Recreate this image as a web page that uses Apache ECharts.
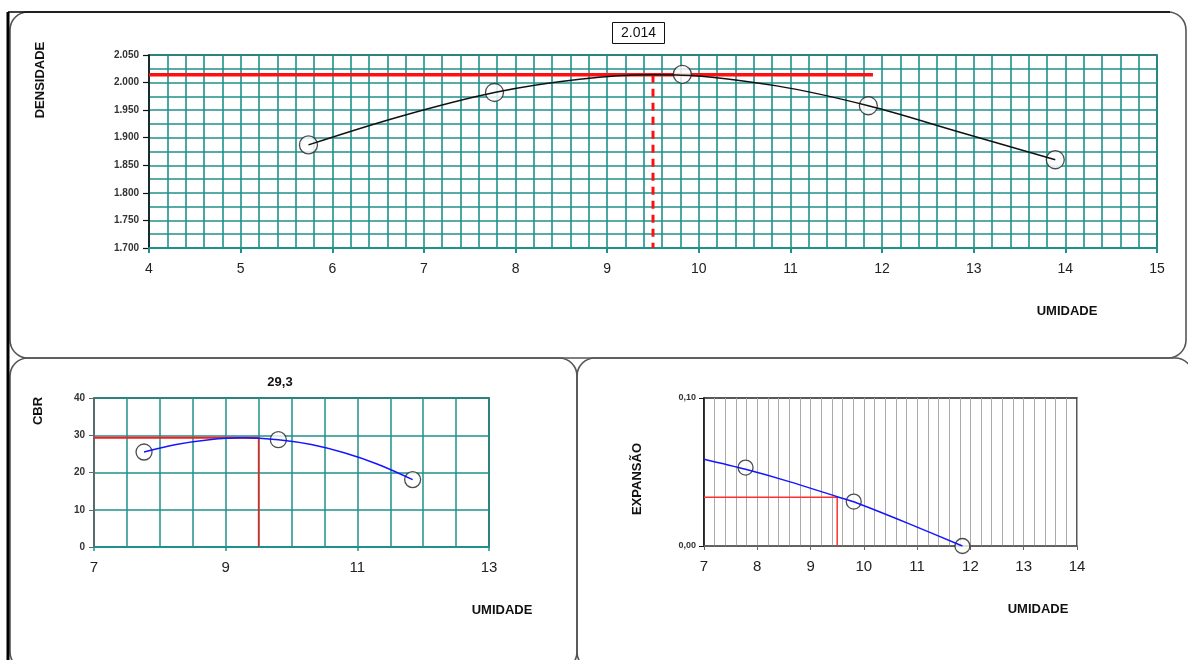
<!DOCTYPE html>
<html>
<head>
<meta charset="utf-8">
<script src="https://cdn.jsdelivr.net/npm/echarts@6/dist/echarts.min.js"></script>
<style>
  html, body { margin: 0; padding: 0; background: #fff; }
  #chart { width: 1188px; height: 660px; }
</style>
</head>
<body>
<div id="chart"></div>
<script>
// Compactação: densidade x umidade
const densUmidade = [5.74, 7.77, 9.82, 11.85, 13.89];
const densValores = [1.887, 1.982, 2.015, 1.958, 1.860];
const densCurvaX = [5.74, 6.75, 7.77, 8.70, 9.50, 9.82, 10.85, 11.85, 12.85, 13.89];
const densCurvaY = [1.887, 1.939, 1.982, 2.006, 2.014, 2.0135, 1.994, 1.958, 1.910, 1.860];
const densMaxima = 2.014;
const umidadeOtima = 9.5;
const densLinhaFim = 11.9;
const densTicksY = [1.700, 1.750, 1.800, 1.850, 1.900, 1.950, 2.000, 2.050];

// CBR x umidade
const cbrUmidade = [7.76, 9.80, 11.84];
const cbrValores = [25.5, 28.8, 18.1];
const cbrCurvaX = [7.76, 8.25, 8.75, 9.25, 9.80, 10.30, 10.80, 11.30, 11.84];
const cbrCurvaY = [25.5, 27.5, 28.8, 29.3, 28.8, 27.5, 25.3, 22.3, 18.1];
const cbrResultado = 29.3;

// Expansão x umidade
const expUmidade = [7.78, 9.81, 11.85];
const expValores = [0.053, 0.030, 0.000];
const expCurvaX = [7.00, 7.78, 8.60, 9.50, 9.81, 10.83, 11.85];
const expCurvaY = [0.0586, 0.0518, 0.0435, 0.0333, 0.0299, 0.0153, 0.000];
const expResultado = 0.033;

const FONT = '"Liberation Sans", Arial, sans-serif';
const TEAL = '#1f918b';
const pares = (xs, ys) => xs.map((x, i) => [x, ys[i]]);

const chart = echarts.init(document.getElementById('chart'), null, { renderer: 'canvas' });

const axisTitle = (text, x, y, rotated) => ({
  type: 'text',
  x: x, y: y,
  rotation: rotated ? Math.PI / 2 : 0,
  style: {
    text: text, font: 'bold 13px ' + FONT, fill: '#111',
    align: 'center', verticalAlign: 'middle'
  },
  z: 10
});

const circulo = (size) => ({
  symbol: 'circle', symbolSize: size,
  itemStyle: { color: '#fff', borderColor: '#222', borderWidth: 1.3 }
});

const option = {
  backgroundColor: '#fff',
  animation: false,
  title: [
    {
      text: densMaxima.toFixed(3),
      left: 612, top: 22,
      padding: [4, 9, 4, 9],
      borderColor: '#111', borderWidth: 1,
      textStyle: { fontFamily: FONT, fontSize: 14, fontWeight: 'normal', color: '#111' }
    },
    {
      text: cbrResultado.toFixed(1).replace('.', ','),
      left: 280, top: 376, textAlign: 'center',
      padding: 0,
      textStyle: { fontFamily: FONT, fontSize: 13, fontWeight: 'bold', color: '#111' }
    }
  ],
  graphic: [
    // molduras dos painéis
    { type: 'rect', shape: { x: 10, y: 12, width: 1176, height: 346, r: 18 },
      style: { fill: 'none', stroke: '#555', lineWidth: 1.6 }, z: 1 },
    { type: 'rect', shape: { x: 10, y: 358, width: 567, height: 312, r: 18 },
      style: { fill: 'none', stroke: '#555', lineWidth: 1.6 }, z: 1 },
    { type: 'rect', shape: { x: 577, y: 358, width: 616, height: 312, r: 18 },
      style: { fill: 'none', stroke: '#555', lineWidth: 1.6 }, z: 1 },
    { type: 'line', shape: { x1: 8, y1: 12, x2: 8, y2: 660 },
      style: { stroke: '#000', lineWidth: 3 }, z: 2 },
    { type: 'line', shape: { x1: 8, y1: 12, x2: 1170, y2: 12 },
      style: { stroke: '#000', lineWidth: 1.5 }, z: 2 },
    axisTitle('DENSIDADE', 40, 80, true),
    axisTitle('UMIDADE', 1067, 311, false),
    axisTitle('CBR', 38, 411, true),
    axisTitle('UMIDADE', 502, 610, false),
    axisTitle('EXPANSÃO', 637, 479, true),
    axisTitle('UMIDADE', 1038, 609, false)
  ],
  grid: [
    { left: 149, top: 55, width: 1008, height: 193, show: true,
      borderColor: '#222', borderWidth: 1.5, backgroundColor: 'transparent' },
    { left: 94, top: 398, width: 395, height: 149, show: true,
      borderColor: '#222', borderWidth: 1.5, backgroundColor: 'transparent' },
    { left: 704, top: 398, width: 373, height: 148, show: true,
      borderColor: '#222', borderWidth: 1.5, backgroundColor: 'transparent' }
  ],
  xAxis: [
    {
      gridIndex: 0, type: 'value', min: 4, max: 15, interval: 1,
      axisLine: { show: true, onZero: false, lineStyle: { color: TEAL, width: 2 } },
      axisTick: { show: true, length: 5, lineStyle: { color: TEAL, width: 2 } },
      axisLabel: { fontFamily: FONT, fontSize: 14, color: '#222', margin: 14 },
      splitLine: { show: true, lineStyle: { color: TEAL, width: 1.6 } },
      minorTick: { show: false, splitNumber: 5 },
      minorSplitLine: { show: true, lineStyle: { color: TEAL, width: 1.6 } }
    },
    {
      gridIndex: 1, type: 'value', min: 7, max: 13, interval: 2,
      axisLine: { show: true, onZero: false, lineStyle: { color: TEAL, width: 2 } },
      axisTick: { show: true, length: 4, lineStyle: { color: TEAL, width: 1.5 } },
      axisLabel: { fontFamily: FONT, fontSize: 15, color: '#222', margin: 13 },
      splitLine: { show: true, lineStyle: { color: TEAL, width: 1.5 } },
      minorTick: { show: false, splitNumber: 4 },
      minorSplitLine: { show: true, lineStyle: { color: TEAL, width: 1.5 } }
    },
    {
      gridIndex: 2, type: 'value', min: 7, max: 14, interval: 1,
      axisLine: { show: true, onZero: false, lineStyle: { color: '#666', width: 1.5 } },
      axisTick: { show: true, length: 4, lineStyle: { color: '#666', width: 1 } },
      axisLabel: { fontFamily: FONT, fontSize: 15, color: '#222', margin: 13 },
      splitLine: { show: true, lineStyle: { color: '#aaaaaa', width: 1 } },
      minorTick: { show: false, splitNumber: 5 },
      minorSplitLine: { show: true, lineStyle: { color: '#aaaaaa', width: 1 } }
    }
  ],
  yAxis: [
    {
      gridIndex: 0, type: 'value', min: densTicksY[0], max: densTicksY[densTicksY.length - 1], interval: 0.05,
      axisLine: { show: true, onZero: false, lineStyle: { color: '#111', width: 1.5 } },
      axisTick: { show: true, length: 6, lineStyle: { color: '#111', width: 1.2 } },
      axisLabel: { fontFamily: FONT, fontSize: 10, fontWeight: 'bold', color: '#333', margin: 10,
        formatter: v => v.toFixed(3) },
      splitLine: { show: true, lineStyle: { color: TEAL, width: 1.6 } },
      minorTick: { show: false, splitNumber: 2 },
      minorSplitLine: { show: true, lineStyle: { color: TEAL, width: 1.6 } }
    },
    {
      gridIndex: 1, type: 'value', min: 0, max: 40, interval: 10,
      axisLine: { show: true, onZero: false, lineStyle: { color: '#666', width: 1.5 } },
      axisTick: { show: true, length: 5, lineStyle: { color: '#666', width: 1 } },
      axisLabel: { fontFamily: FONT, fontSize: 10, fontWeight: 'bold', color: '#333', margin: 9 },
      splitLine: { show: true, lineStyle: { color: TEAL, width: 1.5 } }
    },
    {
      gridIndex: 2, type: 'value', min: 0, max: 0.1, interval: 0.1,
      axisLine: { show: true, onZero: false, lineStyle: { color: '#111', width: 1.5 } },
      axisTick: { show: true, length: 5, lineStyle: { color: '#111', width: 1 } },
      axisLabel: { fontFamily: FONT, fontSize: 9, fontWeight: 'bold', color: '#333', margin: 8,
        formatter: v => v.toFixed(2).replace('.', ',') },
      splitLine: { show: false }
    }
  ],
  series: [
    // Densidade
    { type: 'line', xAxisIndex: 0, yAxisIndex: 0, z: 3, symbol: 'none',
      data: [[4, densMaxima], [densLinhaFim, densMaxima]],
      lineStyle: { color: '#ff1010', width: 3.5 } },
    { type: 'line', xAxisIndex: 0, yAxisIndex: 0, z: 3, symbol: 'none',
      data: [[umidadeOtima, densMaxima], [umidadeOtima, densTicksY[0]]],
      lineStyle: { color: '#ff1010', width: 3, type: [8, 6] } },
    Object.assign({ type: 'scatter', xAxisIndex: 0, yAxisIndex: 0, z: 4,
      data: pares(densUmidade, densValores) }, circulo(18)),
    { type: 'line', xAxisIndex: 0, yAxisIndex: 0, z: 5, symbol: 'none', smooth: 0.35,
      data: pares(densCurvaX, densCurvaY),
      lineStyle: { color: '#111', width: 1.5 } },

    // CBR
    { type: 'line', xAxisIndex: 1, yAxisIndex: 1, z: 3, symbol: 'none',
      data: [[7, cbrResultado], [umidadeOtima, cbrResultado]],
      lineStyle: { color: '#ff1a1a', width: 2 } },
    { type: 'line', xAxisIndex: 1, yAxisIndex: 1, z: 3, symbol: 'none',
      data: [[umidadeOtima, cbrResultado], [umidadeOtima, 0]],
      lineStyle: { color: '#ff1a1a', width: 1.5 } },
    Object.assign({ type: 'scatter', xAxisIndex: 1, yAxisIndex: 1, z: 4,
      data: pares(cbrUmidade, cbrValores) }, circulo(16)),
    { type: 'line', xAxisIndex: 1, yAxisIndex: 1, z: 5, symbol: 'none', smooth: 0.35,
      data: pares(cbrCurvaX, cbrCurvaY),
      lineStyle: { color: '#1515ff', width: 1.5 } },

    // Expansão
    { type: 'line', xAxisIndex: 2, yAxisIndex: 2, z: 3, symbol: 'none',
      data: [[7, expResultado], [umidadeOtima, expResultado], [umidadeOtima, 0]],
      lineStyle: { color: '#ff3030', width: 1.5 } },
    Object.assign({ type: 'scatter', xAxisIndex: 2, yAxisIndex: 2, z: 4,
      data: pares(expUmidade, expValores) }, circulo(15)),
    { type: 'line', xAxisIndex: 2, yAxisIndex: 2, z: 5, symbol: 'none', smooth: 0.3,
      data: pares(expCurvaX, expCurvaY),
      lineStyle: { color: '#1515ff', width: 1.5 } }
  ]
};

chart.setOption(option);
</script>
</body>
</html>
